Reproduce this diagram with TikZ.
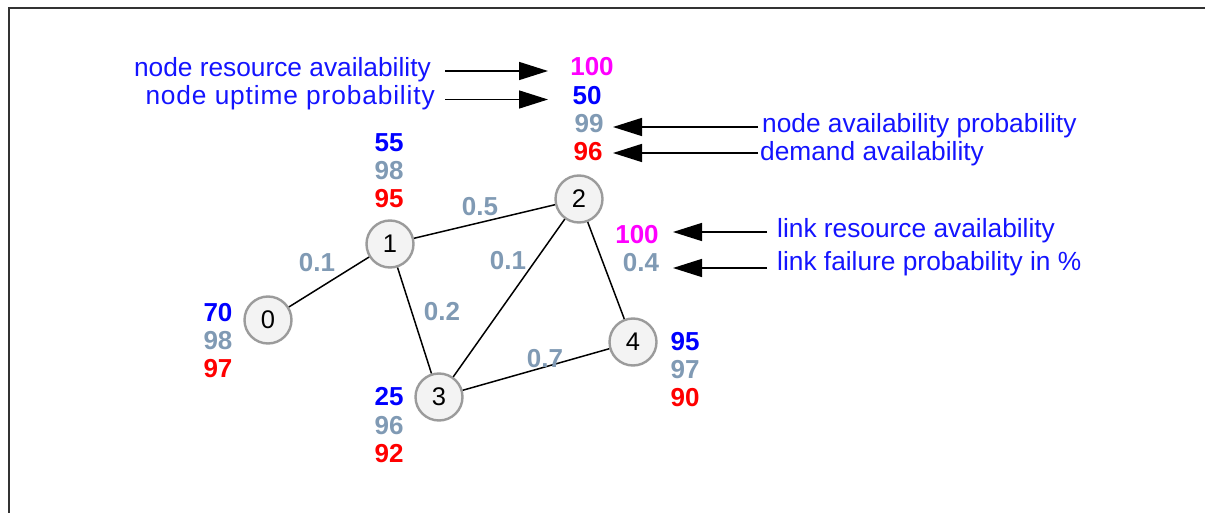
\documentclass[tikz,border=0pt]{standalone}
\usepackage{fontspec}
\setmainfont{Liberation Sans}
\usetikzlibrary{arrows.meta}
\definecolor{nblue}{RGB}{0,0,255}
\definecolor{ngray}{RGB}{128,154,180}
\definecolor{nred}{RGB}{255,0,0}
\definecolor{nmag}{RGB}{255,0,255}
\definecolor{txtblue}{RGB}{20,20,255}
\definecolor{cfill}{RGB}{243,243,243}
\definecolor{cline}{RGB}{155,155,155}
\definecolor{frame}{RGB}{50,50,50}
\begin{document}
\begin{tikzpicture}[x=1pt,y=-1pt,
  vertex/.style={circle,draw=cline,fill=cfill,line width=2.4pt,minimum size=47pt,inner sep=0pt,font=\fontsize{25.5}{25.5}\selectfont},
  num/.style={inner sep=0pt,font=\bfseries\fontsize{26}{26}\selectfont},
  ann/.style={inner sep=0pt,text=txtblue,font=\fontsize{26.3}{30}\selectfont},
  arr/.style={-{Triangle[length=29pt,width=18pt]},line width=1.5pt},
  edge/.style={line width=1.5pt}]
\useasboundingbox (0,0) rectangle (1205,513);
\draw[frame,line width=2pt] (9,514) -- (9,8) -- (1206,8);

% vertices
\node[vertex] (n0) at (268,320) {0};
\node[vertex] (n1) at (390,244) {1};
\node[vertex] (n2) at (579,199) {2};
\node[vertex] (n3) at (439,397) {3};
\node[vertex] (n4) at (633,342) {4};

% links
\draw[edge] (n0) -- (n1);
\draw[edge] (n1) -- (n2);
\draw[edge] (n1) -- (n3);
\draw[edge] (n2) -- (n3);
\draw[edge] (n2) -- (n4);
\draw[edge] (n3) -- (n4);

% link labels
\node[num,text=ngray] (l01) at (317,263) {0.1};
\node[num,text=ngray] (l12) at (480,207) {0.5};
\node[num,text=ngray] (l23) at (508,261) {0.1};
\node[num,text=ngray] (l13) at (442,312) {0.2};
\node[num,text=ngray] (l34) at (545,359) {0.7};

% node stacks
\node[num,text=nblue] (a0) at (218,313) {70};
\node[num,text=ngray] (b0) at (218,341) {98};
\node[num,text=nred] (c0) at (218,369) {97};

\node[num,text=nblue] (a1) at (389,143) {55};
\node[num,text=ngray] (b1) at (389,171) {98};
\node[num,text=nred] (c1) at (389,199) {95};

\node[num,text=nmag] (r2) at (592,67) {100};
\node[num,text=nblue] (a2) at (587,95.5) {50};
\node[num,text=ngray] (b2) at (589,124) {99};
\node[num,text=nred] (c2) at (588,152) {96};

\node[num,text=nblue] (a3) at (389,397) {25};
\node[num,text=ngray] (b3) at (389,425.5) {96};
\node[num,text=nred] (c3) at (389,454) {92};

\node[num,text=nblue] (a4) at (685,342) {95};
\node[num,text=ngray] (b4) at (685,370) {97};
\node[num,text=nred] (c4) at (685,398) {90};

\node[num,text=nmag] (lr) at (637,235) {100};
\node[num,text=ngray] (lf) at (641,263) {0.4};

% annotations
\node[ann,anchor=base east] (t1) at (431,77) {node resource availability};
\node[ann,anchor=base east] (t2) at (435,105) {\addfontfeatures{LetterSpace=3.3}node uptime probability};
\node[ann,anchor=base west] (t3) at (762,133) {node availability probability};
\node[ann,anchor=base west] (t4) at (760,161) {demand availability};
\node[ann,anchor=base west] (t5) at (777,237) {link resource availability};
\node[ann,anchor=base west] (t6) at (777,270) {link failure probability in \%};

% arrows
\coordinate (s1) at (445,71);   \coordinate (e1) at (548,71);
\coordinate (s2) at (445,99.5); \coordinate (e2) at (548,99.5);
\coordinate (s3) at (758,127);  \coordinate (e3) at (613,127);
\coordinate (s4) at (758,153);  \coordinate (e4) at (613,153);
\coordinate (s5) at (767,232);  \coordinate (e5) at (673,232);
\coordinate (s6) at (767,268);  \coordinate (e6) at (673,268);
\draw[arr] (s1) -- (e1);
\draw[arr] (s2) -- (e2);
\draw[arr] (s3) -- (e3);
\draw[arr] (s4) -- (e4);
\draw[arr] (s5) -- (e5);
\draw[arr] (s6) -- (e6);
\end{tikzpicture}
\end{document}
